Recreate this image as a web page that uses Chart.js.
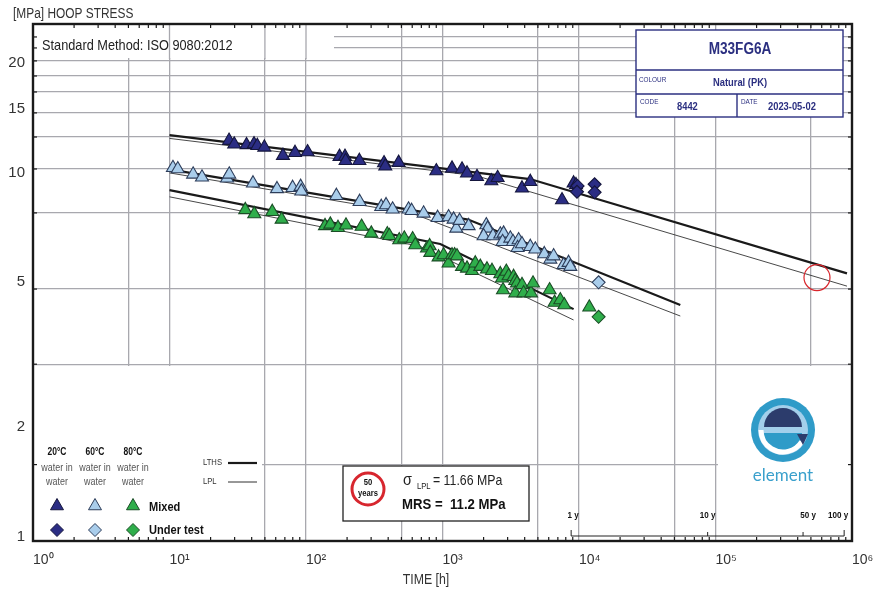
<!DOCTYPE html>
<html>
<head>
<meta charset="utf-8">
<script src="https://cdn.jsdelivr.net/npm/chart.js@4.4.1/dist/chart.umd.min.js"></script>
<style>
  html, body { margin: 0; padding: 0; background: #fff; }
  #wrap { width: 873px; height: 593px; }
</style>
</head>
<body>
<div id="wrap"><canvas id="chart" width="873" height="593"></canvas></div>
<script>
// ---- data (time in h, hoop stress in MPa) ----

// 20 °C water in water
const navyTriTime = [27.3, 29.8, 36.7, 41.6, 44.0, 49.5, 67.8, 83.1, 102.7, 176, 193, 195, 246, 373, 381, 477, 901, 1174, 1390, 1512, 1789, 2278, 2534, 3823, 4398, 7508, 9130, 9507];
const navyTriStress = [12.24, 11.96, 11.91, 11.98, 11.85, 11.73, 11.13, 11.34, 11.39, 11.06, 11.06, 10.78, 10.78, 10.62, 10.41, 10.65, 10.10, 10.27, 10.21, 9.96, 9.74, 9.48, 9.68, 9.06, 9.44, 8.41, 9.35, 9.25];
const navyDiaTime = [9766, 9668, 13015, 13015];
const navyDiaStress = [9.19, 8.86, 9.29, 8.83];

// 60 °C water in water
const lightTriTime = [10.6, 11.5, 14.9, 17.3, 26.4, 27.4, 40.9, 61.3, 79.8, 91.3, 92.4, 167, 247, 356, 386, 431, 564, 594, 727, 921, 1108, 1206, 1262, 1334, 1553, 2094, 2140, 2001, 2344, 2652, 2803, 2756, 3139, 3285, 3610, 3549, 3823, 4398, 4786, 5569, 6163, 6515, 7714, 8389, 8637];
const lightTriStress = [10.31, 10.23, 9.89, 9.71, 9.65, 9.89, 9.35, 9.02, 9.09, 9.15, 8.89, 8.64, 8.32, 8.06, 8.15, 7.93, 7.93, 7.86, 7.73, 7.52, 7.55, 7.44, 7.03, 7.38, 7.14, 7.18, 7.03, 6.70, 6.70, 6.77, 6.81, 6.46, 6.60, 6.46, 6.53, 6.22, 6.37, 6.26, 6.16, 5.98, 5.78, 5.90, 5.58, 5.66, 5.52];
const lightDiaTime = [13920];
const lightDiaStress = [5.00];

// 80 °C water in water
const greenTriTime = [35.9, 41.8, 56.6, 66.3, 137.8, 150.7, 171.6, 196.3, 255.5, 300.8, 394, 408, 482, 525, 604, 632, 770, 805, 814, 936, 1019, 1108, 1174, 1226, 1277, 1390, 1512, 1645, 1739, 1892, 2118, 2305, 2652, 2729, 2775, 2934, 3050, 3318, 3415, 3514, 3415, 3823, 3928, 4451, 4603, 6090, 6625, 7295, 7806, 11900];
const greenTriStress = [7.90, 7.70, 7.81, 7.44, 7.14, 7.21, 7.06, 7.17, 7.11, 6.81, 6.78, 6.71, 6.53, 6.60, 6.57, 6.33, 6.20, 6.29, 6.03, 5.86, 5.94, 5.64, 5.94, 5.94, 5.90, 5.52, 5.46, 5.38, 5.64, 5.52, 5.43, 5.38, 5.27, 5.13, 4.76, 5.35, 5.20, 5.18, 5.05, 4.97, 4.67, 4.92, 4.67, 4.67, 4.97, 4.76, 4.40, 4.47, 4.33, 4.27];
const greenDiaTime = [13920];
const greenDiaStress = [4.02];

// regression lines (LTHS thick, LPL thin)
const lths20Time = [10, 4375, 919000];
const lths20Stress = [12.67, 9.60, 5.29];
const lpl20Time = [10, 1768, 919000];
const lpl20Stress = [12.41, 9.80, 4.88];
const lths60Time = [10, 1540, 55230];
const lths60Stress = [10.20, 7.43, 4.33];
const lpl60Time = [10, 611, 55230];
const lpl60Stress = [9.98, 7.71, 4.04];
const lths80Time = [10, 963, 9130];
const lths80Stress = [8.95, 6.37, 4.22];
const lpl80Time = [10, 688, 9130];
const lpl80Stress = [8.58, 6.27, 3.94];

// 50 year mark
const markTime = [554000];
const markStress = [5.15];

// axes
const xGridValues = [1, 5, 10, 50, 100, 500, 1000, 5000, 10000, 50000, 100000, 500000, 1000000];
const xLabelValues = [1, 10, 100, 1000, 10000, 100000, 1000000];
const xTickLabels = ['10\u2070', '10\u00b9', '10\u00b2', '10\u00b3', '10\u2074', '10\u2075', '10\u2076'];
const yGridValues = [1.58, 2.98, 4.79, 7.75, 10.23, 12.52, 14.58, 16.64, 18.41, 20.25, 21.98, 23.56];
const yLabelValues = [1, 2, 5, 10, 15, 20];
const yearHours = [8760, 87600, 438000, 876000];
const yearLabels = ['1 y', '10 y', '50 y', '100 y'];

const F = "'Liberation Sans', Arial, sans-serif";
const GRID = '#a8a8ae';
const NAVY = '#2b2f80';

function pts(xs, ys) {
    return xs.map((x, i) => ({ x: x, y: ys[i] }));
}

function markerSet(label, xs, ys, style, fill, edge, r) {
    return {
        label: label,
        data: pts(xs, ys),
        pointStyle: style,
        pointRadius: r,
        pointBackgroundColor: fill,
        pointBorderColor: edge,
        pointBorderWidth: 1.1,
        showLine: false,
        order: 1
    };
}

function lineSet(label, xs, ys, w) {
    return {
        label: label,
        data: pts(xs, ys),
        borderColor: w > 1 ? '#1a1a1a' : '#333',
        borderWidth: w,
        pointRadius: 0,
        showLine: true,
        tension: 0,
        order: 5
    };
}

// condensed text, the sheet uses a narrow face
function text(ctx, str, x, y, font, color, align) {
    ctx.save();
    ctx.font = font;
    ctx.fillStyle = color;
    ctx.textAlign = align || 'left';
    ctx.textBaseline = 'middle';
    ctx.translate(x, y);
    ctx.scale(0.85, 1);
    ctx.fillText(str, 0, 0);
    ctx.restore();
}

function seg(ctx, x1, y1, x2, y2) {
    ctx.beginPath();
    ctx.moveTo(x1, y1);
    ctx.lineTo(x2, y2);
    ctx.stroke();
}

// white areas of the printed sheet and the frame ticks
const sheetPlugin = {
    id: 'sheet',
    beforeDatasetsDraw(chart) {
        const ctx = chart.ctx, a = chart.chartArea, xs = chart.scales.x;
        ctx.save();
        ctx.fillStyle = '#fff';
        ctx.fillRect(a.left + 1, a.top + 1, 300, 33);
        ctx.fillRect(a.left + 1, 366, 228, a.bottom - 367);
        ctx.fillRect(718, 366, a.right - 719, a.bottom - 367);
        ctx.strokeStyle = GRID;
        ctx.lineWidth = 1.3;
        [10, 50, 100].forEach(v => {
            const px = xs.getPixelForValue(v);
            seg(ctx, px, a.top, px, a.top + 35);
        });
        ctx.restore();
    },
    afterDraw(chart) {
        const ctx = chart.ctx, a = chart.chartArea, xs = chart.scales.x, ys = chart.scales.y;
        ctx.save();

        // frame + inward ticks
        ctx.strokeStyle = '#1a1a1a';
        ctx.lineWidth = 1.2;
        for (let d = 1; d < 1000000; d *= 10) {
            for (let m = 2; m <= 9; m++) {
                const px = xs.getPixelForValue(m * d);
                seg(ctx, px, a.bottom, px, a.bottom - 4);
                seg(ctx, px, a.top, px, a.top + 4);
            }
        }
        yGridValues.forEach(v => {
            const py = ys.getPixelForValue(v);
            seg(ctx, a.left, py, a.left + 4, py);
            seg(ctx, a.right, py, a.right - 4, py);
        });
        ctx.lineWidth = 2.4;
        ctx.strokeRect(a.left, a.top, a.right - a.left, a.bottom - a.top);

        // titles
        text(ctx, '[MPa] HOOP STRESS', 13, 14, '14px ' + F, '#333');
        text(ctx, 'TIME [h]', 426, 580, '14.5px ' + F, '#333', 'center');
        text(ctx, 'Standard Method: ISO 9080:2012', 42, 46, '15px ' + F, '#222');

        // header box
        ctx.fillStyle = '#fff';
        ctx.fillRect(636, 30, 207, 87);
        ctx.strokeStyle = NAVY;
        ctx.lineWidth = 1.4;
        ctx.strokeRect(636, 30, 207, 87);
        seg(ctx, 636, 70, 843, 70);
        seg(ctx, 636, 94, 843, 94);
        seg(ctx, 737, 94, 737, 117);
        text(ctx, 'M33FG6A', 740, 50, 'bold 16px ' + F, NAVY, 'center');
        text(ctx, 'COLOUR', 639, 80, '7.5px ' + F, NAVY);
        text(ctx, 'Natural (PK)', 740, 83, 'bold 11px ' + F, NAVY, 'center');
        text(ctx, 'CODE', 640, 102, '7.5px ' + F, NAVY);
        text(ctx, '8442', 677, 107, 'bold 11px ' + F, NAVY);
        text(ctx, 'DATE', 741, 102, '7.5px ' + F, NAVY);
        text(ctx, '2023-05-02', 768, 107, 'bold 11px ' + F, NAVY);

        // symbol legend
        const cols = [57, 95, 133];
        const fills = ['#2b2d84', '#a9cdeb', '#2fae4b'];
        const edges = ['#15163d', '#2d3d5a', '#1b4d26'];
        ['20°C', '60°C', '80°C'].forEach((t, i) => {
            text(ctx, t, cols[i], 452, 'bold 10px ' + F, '#111', 'center');
            text(ctx, 'water in', cols[i], 468, '10.5px ' + F, '#555', 'center');
            text(ctx, 'water', cols[i], 482, '10.5px ' + F, '#555', 'center');
            ctx.fillStyle = fills[i];
            ctx.strokeStyle = edges[i];
            ctx.lineWidth = 1;
            Chart.helpers.drawPoint(ctx, { pointStyle: 'triangle', radius: 7.5, rotation: 0, borderWidth: 1 }, cols[i], 506);
            Chart.helpers.drawPoint(ctx, { pointStyle: 'rectRot', radius: 6.5, rotation: 0, borderWidth: 1 }, cols[i], 530);
        });
        text(ctx, 'Mixed', 149, 507, 'bold 13px ' + F, '#111');
        text(ctx, 'Under test', 149, 530, 'bold 13px ' + F, '#111');
        text(ctx, 'LTHS', 203, 463, '9px ' + F, '#333');
        text(ctx, 'LPL', 203, 482, '9px ' + F, '#333');
        ctx.strokeStyle = '#1a1a1a';
        ctx.lineWidth = 2.2;
        seg(ctx, 228, 463, 257, 463);
        ctx.lineWidth = 0.9;
        seg(ctx, 228, 482, 257, 482);

        // MRS box
        ctx.fillStyle = '#fff';
        ctx.fillRect(343, 466, 186, 55);
        ctx.strokeStyle = '#222';
        ctx.lineWidth = 1.3;
        ctx.strokeRect(343, 466, 186, 55);
        ctx.strokeStyle = '#d7262e';
        ctx.lineWidth = 3;
        ctx.beginPath();
        ctx.arc(368, 489, 16, 0, Math.PI * 2);
        ctx.stroke();
        text(ctx, '50', 368, 483, 'bold 9px ' + F, '#111', 'center');
        text(ctx, 'years', 368, 494, 'bold 9px ' + F, '#111', 'center');
        text(ctx, '\u03c3', 403, 480, '17px ' + F, '#222');
        text(ctx, 'LPL', 417, 487, '9px ' + F, '#222');
        text(ctx, '= 11.66 MPa', 433, 481, '14.5px ' + F, '#222');
        text(ctx, 'MRS =  11.2 MPa', 402, 505, 'bold 15.5px ' + F, '#111');

        // year bracket
        const yp = yearHours.map(h => xs.getPixelForValue(h));
        ctx.strokeStyle = '#222';
        ctx.lineWidth = 1;
        seg(ctx, yp[0], 536, yp[3], 536);
        seg(ctx, yp[0], 536, yp[0], 530);
        seg(ctx, yp[3], 536, yp[3], 530);
        seg(ctx, yp[1], 536, yp[1], 532);
        seg(ctx, yp[2], 536, yp[2], 532);
        const offs = [2, 0, 5, -6];
        yearLabels.forEach((t, i) => text(ctx, t, yp[i] + offs[i], 515, 'bold 9.5px ' + F, '#111', 'center'));

        // element logo
        const cx = 783, cy = 430;
        ctx.fillStyle = '#2f9bc8';
        ctx.beginPath(); ctx.arc(cx, cy, 32, 0, Math.PI * 2); ctx.fill();
        ctx.fillStyle = '#a3cfeb';
        ctx.beginPath(); ctx.arc(cx, cy, 25, 0, Math.PI * 2); ctx.fill();
        ctx.fillStyle = '#2c3c6c';
        ctx.beginPath(); ctx.arc(cx, cy - 3, 19, Math.PI, Math.PI * 2); ctx.closePath(); ctx.fill();
        ctx.fillStyle = '#2f9bc8';
        ctx.beginPath(); ctx.arc(cx, cy + 3, 19, 0, Math.PI); ctx.closePath(); ctx.fill();
        ctx.strokeStyle = '#fff';
        ctx.lineWidth = 5;
        ctx.beginPath(); ctx.arc(cx, cy, 22, 0.55, Math.PI); ctx.stroke();
        ctx.fillStyle = '#2c3c6c';
        ctx.beginPath(); ctx.moveTo(cx + 14, cy + 4); ctx.lineTo(cx + 25, cy + 4); ctx.lineTo(cx + 20, cy + 15); ctx.closePath(); ctx.fill();
        ctx.save();
        ctx.font = '17px Lato, ' + F;
        ctx.fillStyle = '#3aa0cc';
        ctx.textAlign = 'center';
        ctx.textBaseline = 'middle';
        ctx.fillText('element', cx, 476);
        ctx.restore();

        ctx.restore();
    }
};

const chart = new Chart(document.getElementById('chart'), {
    type: 'scatter',
    data: {
        datasets: [
            { label: '50 years', data: pts(markTime, markStress), pointRadius: 13, pointBackgroundColor: 'rgba(0,0,0,0)', pointBorderColor: '#d9262c', pointBorderWidth: 1.2, order: 0 },
            markerSet('20°C under test', navyDiaTime, navyDiaStress, 'rectRot', '#2b2d84', '#15163d', 6.5),
            markerSet('60°C under test', lightDiaTime, lightDiaStress, 'rectRot', '#a9cdeb', '#2d3d5a', 6.5),
            markerSet('80°C under test', greenDiaTime, greenDiaStress, 'rectRot', '#2fae4b', '#1b4d26', 6.5),
            markerSet('20°C', navyTriTime, navyTriStress, 'triangle', '#2b2d84', '#15163d', 7.5),
            markerSet('60°C', lightTriTime, lightTriStress, 'triangle', '#a9cdeb', '#2d3d5a', 7.5),
            markerSet('80°C', greenTriTime, greenTriStress, 'triangle', '#2fae4b', '#1b4d26', 7.5),
            lineSet('LTHS 20', lths20Time, lths20Stress, 2.2),
            lineSet('LPL 20', lpl20Time, lpl20Stress, 0.9),
            lineSet('LTHS 60', lths60Time, lths60Stress, 2.2),
            lineSet('LPL 60', lpl60Time, lpl60Stress, 0.9),
            lineSet('LTHS 80', lths80Time, lths80Stress, 2.2),
            lineSet('LPL 80', lpl80Time, lpl80Stress, 0.9)
        ]
    },
    options: {
        responsive: false,
        animation: false,
        layout: { padding: { top: 24, right: 21, left: 0, bottom: 0 } },
        plugins: { legend: { display: false }, tooltip: { enabled: false } },
        scales: {
            x: {
                type: 'logarithmic',
                min: 1,
                max: 1000000,
                afterBuildTicks: s => { s.ticks = xGridValues.map(v => ({ value: v })); },
                afterFit: s => { s.height = 52; s.paddingLeft = 0; s.paddingRight = 0; },
                ticks: {
                    autoSkip: false,
                    maxRotation: 0,
                    align: 'start',
                    padding: 11,
                    color: '#333',
                    font: { family: F, size: 14 },
                    callback: v => {
                        const i = xLabelValues.indexOf(v);
                        return i < 0 ? '' : xTickLabels[i];
                    }
                },
                grid: { color: GRID, lineWidth: 1.3, drawTicks: false },
                border: { display: false }
            },
            y: {
                type: 'logarithmic',
                min: 0.975,
                max: 25.57,
                afterBuildTicks: s => {
                    s.ticks = yGridValues.concat(yLabelValues).sort((p, q) => p - q).map(v => ({ value: v }));
                },
                afterFit: s => { s.width = 33; s.paddingTop = 0; s.paddingBottom = 0; },
                ticks: {
                    autoSkip: false,
                    padding: 8,
                    color: '#333',
                    font: { family: F, size: 15 },
                    callback: v => yLabelValues.includes(v) ? String(v) : ''
                },
                grid: {
                    color: c => (c.tick && yLabelValues.includes(c.tick.value)) ? 'rgba(0,0,0,0)' : GRID,
                    lineWidth: 1.3,
                    drawTicks: false
                },
                border: { display: false }
            }
        }
    },
    plugins: [sheetPlugin]
});
</script>
</body>
</html>
